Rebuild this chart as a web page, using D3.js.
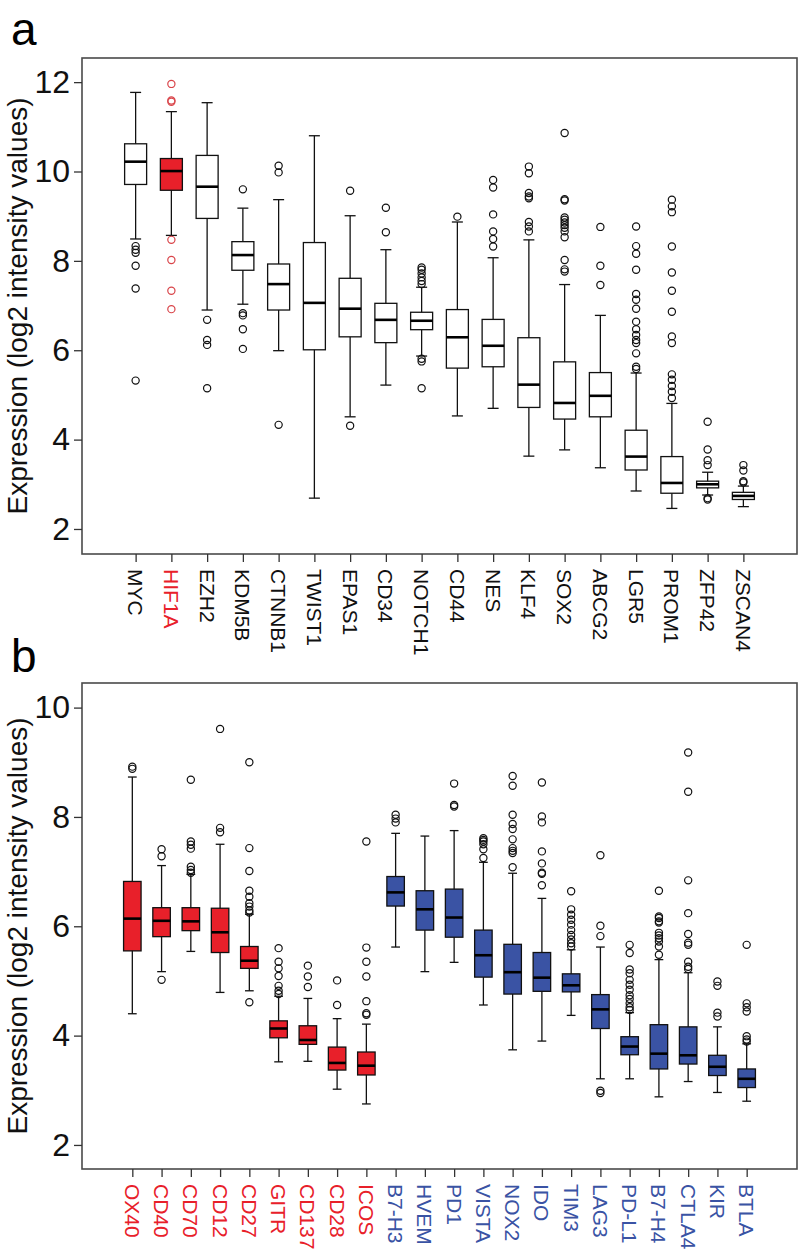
<!DOCTYPE html>
<html>
<head>
<meta charset="utf-8">
<script src="https://cdn.jsdelivr.net/npm/d3@7"></script>
<style>
body { margin: 0; background: #fff; }
svg text { font-family: "Liberation Sans", Arial, sans-serif; }
</style>
</head>
<body>
<div id="chart"></div>
<script>
// panel a - stem cell genes
let genesA = ["MYC","HIF1A","EZH2","KDM5B","CTNNB1","TWIST1","EPAS1","CD34","NOTCH1","CD44","NES","KLF4","SOX2","ABCG2","LGR5","PROM1","ZFP42","ZSCAN4"];
let loA  = [8.49, 8.57, 6.90, 7.03, 5.99, 2.69, 4.51, 5.22, 5.87, 4.53, 4.70, 3.63, 3.77, 3.37, 2.85, 2.46, 2.76, 2.50];
let q1A  = [9.71, 9.58, 8.95, 7.79, 6.90, 6.01, 6.30, 6.17, 6.46, 5.60, 5.63, 4.72, 4.46, 4.51, 3.32, 2.80, 2.92, 2.66];
let medA = [10.22, 10.01, 9.66, 8.13, 7.48, 7.06, 6.93, 6.68, 6.66, 6.29, 6.10, 5.23, 4.82, 4.98, 3.62, 3.03, 3.00, 2.74];
let q3A  = [10.62, 10.29, 10.36, 8.43, 7.93, 8.41, 7.61, 7.05, 6.85, 6.91, 6.69, 6.28, 5.74, 5.50, 4.21, 3.62, 3.07, 2.82];
let hiA  = [11.77, 11.34, 11.54, 9.18, 9.37, 10.80, 9.01, 8.25, 7.41, 8.87, 8.07, 8.47, 7.47, 6.78, 5.49, 4.81, 3.27, 2.96];
let outA = [
    [8.33, 8.25, 8.18, 7.89, 7.38, 5.32],
    [11.96, 11.59, 11.56, 8.47, 8.02, 7.33, 6.92],
    [6.68, 6.23, 6.12, 5.15],
    [9.60, 6.83, 6.78, 6.47, 6.03],
    [10.13, 9.98, 4.33],
    [],
    [9.57, 4.31],
    [9.19, 8.64],
    [7.85, 7.80, 7.72, 7.63, 7.55, 7.48, 5.81, 5.75, 5.15],
    [8.99],
    [9.81, 9.64, 9.04, 8.66, 8.49, 8.32],
    [10.11, 9.96, 9.52, 9.44, 9.40, 8.87, 8.77, 8.66],
    [10.86, 9.38, 9.35, 8.97, 8.92, 8.86, 8.80, 8.74, 8.66, 8.53, 8.02, 7.81, 7.76],
    [8.76, 7.89, 7.46],
    [8.77, 8.33, 8.16, 7.80, 7.26, 7.13, 6.93, 6.64, 6.47, 6.34, 6.23, 6.16, 5.93, 5.63, 5.58],
    [9.37, 9.22, 9.09, 8.32, 7.74, 7.33, 6.86, 6.31, 6.16, 5.46, 5.34, 5.20, 5.07, 4.93],
    [4.40, 3.78, 3.54, 3.43, 2.69, 2.66],
    [3.43, 3.31, 3.07, 3.04]
];
let highlightA = "HIF1A";
let ticksA = [2, 4, 6, 8, 10, 12];
let rangeA = [1.44, 12.54];   // value at bottom / top of the frame

// panel b - immune checkpoint genes
let genesB = ["OX40","CD40","CD70","CD12","CD27","GITR","CD137","CD28","ICOS","B7-H3","HVEM","PD1","VISTA","NOX2","IDO","TIM3","LAG3","PD-L1","B7-H4","CTLA4","KIR","BTLA"];
let groupB = ["stim","stim","stim","stim","stim","stim","stim","stim","stim","inhib","inhib","inhib","inhib","inhib","inhib","inhib","inhib","inhib","inhib","inhib","inhib","inhib"];
let loB  = [4.40, 5.17, 5.54, 4.79, 4.82, 3.52, 3.53, 3.02, 2.75, 5.62, 5.17, 5.34, 4.56, 3.74, 3.90, 4.37, 3.21, 3.21, 2.88, 3.16, 2.96, 2.80];
let q1B  = [5.55, 5.81, 5.92, 5.52, 5.23, 3.96, 3.84, 3.37, 3.28, 6.37, 5.93, 5.80, 5.07, 4.76, 4.81, 4.80, 4.13, 3.65, 3.39, 3.48, 3.27, 3.05];
let medB = [6.14, 6.10, 6.09, 5.89, 5.37, 4.13, 3.92, 3.50, 3.45, 6.62, 6.31, 6.16, 5.47, 5.16, 5.06, 4.92, 4.48, 3.80, 3.67, 3.64, 3.43, 3.21];
let q3B  = [6.82, 6.34, 6.34, 6.33, 5.63, 4.27, 4.18, 3.79, 3.70, 6.91, 6.65, 6.68, 5.93, 5.67, 5.52, 5.13, 4.75, 3.98, 4.20, 4.16, 3.64, 3.39];
let hiB  = [8.73, 7.11, 6.95, 7.50, 6.22, 4.72, 4.68, 4.31, 4.21, 7.70, 7.65, 7.75, 7.17, 6.97, 6.51, 5.57, 5.62, 4.42, 5.39, 5.15, 4.16, 3.85];
let outB = [
    [8.92, 8.88],
    [7.41, 7.28, 5.02],
    [8.68, 7.55, 7.49, 7.42, 7.09, 7.03, 6.98],
    [9.61, 7.80, 7.72],
    [9.00, 7.43, 7.01, 6.65, 6.54, 6.42, 6.36, 6.29, 6.25, 4.61],
    [5.60, 5.35, 5.23, 5.09, 4.91, 4.82, 4.76],
    [5.28, 5.08, 4.89],
    [5.01, 4.56],
    [7.55, 5.61, 5.35, 5.08, 4.63, 4.41, 4.38],
    [8.04, 7.97, 7.90],
    [],
    [8.61, 8.22, 8.19],
    [7.61, 7.58, 7.55, 7.50, 7.41, 7.25],
    [8.75, 8.57, 8.04, 7.87, 7.78, 7.59, 7.43, 7.38, 7.34, 7.08],
    [8.63, 8.01, 7.90, 7.37, 7.15, 6.98, 6.96, 6.75],
    [6.64, 6.31, 6.21, 6.12, 6.03, 5.93, 5.84, 5.76, 5.69, 5.63],
    [7.30, 6.01, 5.82, 2.99, 2.95],
    [5.66, 5.51, 5.21, 5.14, 5.02, 4.93, 4.84, 4.74, 4.67, 4.59, 4.52, 4.47],
    [6.65, 6.18, 6.15, 6.09, 6.07, 5.88, 5.83, 5.78, 5.72, 5.63, 5.48],
    [9.18, 8.46, 6.84, 6.24, 5.86, 5.70, 5.66, 5.35, 5.26, 5.22],
    [4.99, 4.91, 4.42, 4.35],
    [5.66, 4.59, 4.52, 4.44, 3.99, 3.93, 3.89]
];
let ticksB = [2, 4, 6, 8, 10];
let rangeB = [1.56, 10.45];

let yTitle = "Expression (log2 intensity values)";

const RED = "#e8202a";
const BLUE = "#3a53a4";

var svg = d3.select("#chart")
    .append("svg")
    .attr("width", 800)
    .attr("height", 1256);

function DrawBoxPanel(opt) {
    let n = opt.genes.length;
    let g = svg.append("g");

    let xScale = d3.scaleLinear()
        .domain([-opt.pad, n - 1 + opt.pad])
        .range([opt.left, opt.right]);
    let yScale = d3.scaleLinear()
        .domain(opt.yDomain)
        .range([opt.bottom, opt.top]);

    // frame
    g.append("rect")
        .attr("x", opt.left)
        .attr("y", opt.top)
        .attr("width", opt.right - opt.left)
        .attr("height", opt.bottom - opt.top)
        .attr("fill", "none")
        .attr("stroke", "#4a4a4a")
        .attr("stroke-width", 1.6);

    // y axis
    let yAxis = d3.axisLeft(yScale)
        .tickValues(opt.ticks)
        .tickSize(8)
        .tickPadding(4)
        .tickFormat(d3.format("d"));
    let ya = g.append("g")
        .attr("transform", "translate(" + opt.left + ",0)")
        .call(yAxis);
    ya.select(".domain").remove();
    ya.selectAll("line").attr("stroke", "#333").attr("stroke-width", 1.3);
    ya.selectAll("text")
        .attr("font-size", 32)
        .attr("fill", "#111")
        .attr("font-family", "Liberation Sans, Arial, sans-serif");

    // x axis
    let xAxis = d3.axisBottom(xScale)
        .tickValues(d3.range(n))
        .tickSize(8)
        .tickFormat("");
    let xa = g.append("g")
        .attr("transform", "translate(0," + opt.bottom + ")")
        .call(xAxis);
    xa.select(".domain").remove();
    xa.selectAll("line").attr("stroke", "#333").attr("stroke-width", 1.3);

    g.selectAll(".xlab")
        .data(opt.genes)
        .enter()
        .append("text")
        .attr("class", "xlab")
        .attr("transform", function(d, i) { return "translate(" + xScale(i) + "," + (opt.bottom + 15) + ") rotate(90)"; })
        .attr("dy", "0.36em")
        .attr("font-size", 21)
        .attr("fill", function(d, i) { return opt.labelColor(d, i); })
        .text(function(d) { return d; });

    // y title
    g.append("text")
        .attr("transform", "translate(" + 27 + "," + ((opt.top + opt.bottom) / 2) + ") rotate(-90)")
        .attr("text-anchor", "middle")
        .attr("font-size", 28)
        .attr("fill", "#111")
        .text(yTitle);

    // panel letter
    g.append("text")
        .attr("x", 11)
        .attr("y", opt.letterY)
        .attr("font-size", 46)
        .attr("fill", "#000")
        .text(opt.letter);

    let bw = opt.boxW;
    let idx = d3.range(n);

    // whiskers
    g.selectAll(".whisk")
        .data(idx)
        .enter()
        .append("line")
        .attr("x1", function(i) { return xScale(i); })
        .attr("x2", function(i) { return xScale(i); })
        .attr("y1", function(i) { return yScale(opt.lo[i]); })
        .attr("y2", function(i) { return yScale(opt.hi[i]); })
        .attr("stroke", "#111")
        .attr("stroke-width", 1.3);

    ["lo", "hi"].forEach(function(k) {
        g.selectAll(".cap-" + k)
            .data(idx)
            .enter()
            .append("line")
            .attr("x1", function(i) { return xScale(i) - bw / 4; })
            .attr("x2", function(i) { return xScale(i) + bw / 4; })
            .attr("y1", function(i) { return yScale(opt[k][i]); })
            .attr("y2", function(i) { return yScale(opt[k][i]); })
            .attr("stroke", "#111")
            .attr("stroke-width", 1.3);
    });

    // boxes
    g.selectAll(".box")
        .data(idx)
        .enter()
        .append("rect")
        .attr("x", function(i) { return xScale(i) - bw / 2; })
        .attr("y", function(i) { return yScale(opt.q3[i]); })
        .attr("width", bw)
        .attr("height", function(i) { return yScale(opt.q1[i]) - yScale(opt.q3[i]); })
        .attr("fill", function(i) { return opt.boxFill(opt.genes[i], i); })
        .attr("stroke", "#111")
        .attr("stroke-width", 1.3);

    g.selectAll(".med")
        .data(idx)
        .enter()
        .append("line")
        .attr("x1", function(i) { return xScale(i) - bw / 2; })
        .attr("x2", function(i) { return xScale(i) + bw / 2; })
        .attr("y1", function(i) { return yScale(opt.med[i]); })
        .attr("y2", function(i) { return yScale(opt.med[i]); })
        .attr("stroke", "#000")
        .attr("stroke-width", 2.6);

    // outliers
    let pts = [];
    for (let i = 0; i < n; i++) {
        for (let j = 0; j < opt.out[i].length; j++) {
            pts.push({ i: i, v: opt.out[i][j] });
        }
    }
    g.selectAll(".dot")
        .data(pts)
        .enter()
        .append("circle")
        .attr("class", "dot")
        .attr("cx", function(d) { return xScale(d.i); })
        .attr("cy", function(d) { return yScale(d.v); })
        .attr("r", 3.6)
        .attr("fill", "none")
        .attr("stroke", function(d) { return opt.dotColor(opt.genes[d.i], d.i); })
        .attr("stroke-width", 1.2);
}

DrawBoxPanel({
    genes: genesA, lo: loA, q1: q1A, med: medA, q3: q3A, hi: hiA, out: outA,
    ticks: ticksA, yDomain: rangeA,
    left: 82, right: 797, top: 58, bottom: 554,
    pad: 1.5, boxW: 22,
    letter: "a", letterY: 45,
    labelColor: function(d) { return d === highlightA ? RED : "#111"; },
    boxFill: function(d) { return d === highlightA ? RED : "#fff"; },
    dotColor: function(d) { return d === highlightA ? "#d9454a" : "#111"; }
});

DrawBoxPanel({
    genes: genesB, lo: loB, q1: q1B, med: medB, q3: q3B, hi: hiB, out: outB,
    ticks: ticksB, yDomain: rangeB,
    left: 82, right: 797, top: 683, bottom: 1169,
    pad: 1.72, boxW: 17.5,
    letter: "b", letterY: 672,
    labelColor: function(d, i) { return groupB[i] === "stim" ? RED : BLUE; },
    boxFill: function(d, i) { return groupB[i] === "stim" ? RED : BLUE; },
    dotColor: function() { return "#111"; }
});
</script>
</body>
</html>
